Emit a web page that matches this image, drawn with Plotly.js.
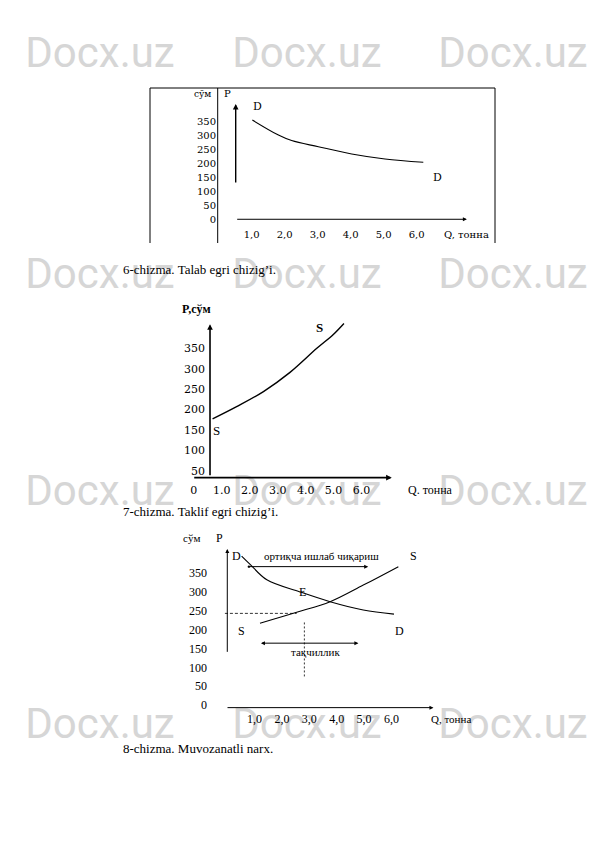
<!DOCTYPE html>
<html><head><meta charset="utf-8">
<script src="https://cdn.plot.ly/plotly-3.0.1.min.js"></script>
<style>html,body{margin:0;padding:0;background:#fff}#c{width:595px;height:842px}</style>
</head><body><div id="c"></div>
<script>
// ---------- DATA ----------
// Chart 6: demand curve (Q in tonnes, P in som)
const demandQ = [1.02, 1.81, 2.21, 3.02, 4.03, 5.04, 6.2];
const demandP = [356, 302, 282, 260, 234, 216, 204];
// Chart 7: supply curve
const supplyQ = [0.67, 1.53, 2.49, 3.44, 4.40, 4.99, 5.37];
const supplyP = [177, 207, 244, 291, 350, 384, 411];
// Chart 8: equilibrium
const eqDemandQ = [0.53, 0.84, 1.45, 2.66, 3.76, 4.97, 6.09];
const eqDemandP = [395, 373, 332, 300, 274, 252, 241];
const eqSupplyQ = [1.2, 2.54, 3.76, 4.97, 6.25];
const eqSupplyP = [217, 246, 274, 318, 367];
const eqPriceLineQ = [-0.08, 2.54];
const eqPriceLineP = [243, 243];
const eqQtyLineQ = [2.82, 2.82];
const eqQtyLineP = [219, 71];
const surplusArrowQ = [0.74, 5.15];
const surplusArrowP = [367, 367];
const shortageArrowQ = [1.18, 4.79];
const shortageArrowP = [164, 164];

// tick values / labels
const priceTicks1 = [0, 50, 100, 150, 200, 250, 300, 350];
const priceLabels1 = ['0', '50', '100', '150', '200', '250', '300', '350'];
const qTicks1 = [1, 2, 3, 4, 5, 6];
const qLabels1 = ['1,0', '2,0', '3,0', '4,0', '5,0', '6,0'];
const priceTicks2 = [50, 100, 150, 200, 250, 300, 350];
const priceLabels2 = ['50', '100', '150', '200', '250', '300', '350'];
const qTicks2 = [0, 1, 2, 3, 4, 5, 6];
const qLabels2 = ['0', '1.0', '2.0', '3.0', '4.0', '5.0', '6.0'];
const priceTicks3 = [0, 50, 100, 150, 200, 250, 300, 350];
const priceLabels3 = ['0', '50', '100', '150', '200', '250', '300', '350'];
const qTicks3 = [1, 2, 3, 4, 5, 6];
const qLabels3 = ['1,0', '2,0', '3,0', '4,0', '5,0', '6,0'];

// axis arrows (start -> end) in data units
const axisArrow1Q = [0.515, 0.515, 0.515, 7.52];
const axisArrow1P = [126, 414, -1, -1];
const axisArrow2Q = [0.578, 0.578, -0.04, 7.08];
const axisArrow2P = [35, 409, 33, 33];
const axisArrow3Q = [0.007, 0.007, -0.04, 7.53];
const axisArrow3P = [137, 414, -7, -7];

// ---------- LAYOUT HELPERS ----------
const W = 595, H = 842;
const PX = v => v / W;
const PY = v => 1 - v / H;
const SERIF = 'Liberation Serif, DejaVu Serif, serif';
const DSERIF = 'DejaVu Serif, serif';

function axesFor(cal) {
  const xr = [(cal.l - cal.x0) / cal.xs, (cal.r - cal.x0) / cal.xs];
  const yr = [(cal.y0 - cal.b) / cal.ys, (cal.y0 - cal.t) / cal.ys];
  return {
    x: {domain: [PX(cal.l), PX(cal.r)], range: xr},
    y: {domain: [PY(cal.b), PY(cal.t)], range: yr}
  };
}
const cal1 = {l:150, r:495, t:88, b:243, x0:218.7, xs:33, y0:219, ys:0.278};
const cal2 = {l:175, r:470, t:300, b:500, x0:193.85, xs:27.95, y0:491.1, ys:0.408};
const cal3 = {l:175, r:480, t:530, b:730, x0:227.1, xs:27.4, y0:705, ys:0.377};
const a1 = axesFor(cal1), a2 = axesFor(cal2), a3 = axesFor(cal3);

function xAx(a, tv, tt, posPy, font) {
  return {domain: a.x.domain, range: a.x.range, anchor: 'free', position: PY(posPy),
    tickvals: tv, ticktext: tt, tickfont: font, showgrid: false, zeroline: false,
    showline: false, ticks: '', fixedrange: true};
}
function yAx(a, tv, tt, posPx, font) {
  return {domain: a.y.domain, range: a.y.range, anchor: 'free', position: PX(posPx),
    tickvals: tv, ticktext: tt, tickfont: font, showgrid: false, zeroline: false,
    showline: false, ticks: '', fixedrange: true};
}

const lineStyle = {color: '#000', width: 1.1, shape: 'spline', smoothing: 1};
const traces = [
  {x: demandQ, y: demandP, xaxis: 'x', yaxis: 'y', mode: 'lines', line: lineStyle},
  {x: supplyQ, y: supplyP, xaxis: 'x2', yaxis: 'y2', mode: 'lines', line: {...lineStyle, width: 1.4}},
  {x: eqDemandQ, y: eqDemandP, xaxis: 'x3', yaxis: 'y3', mode: 'lines', line: lineStyle},
  {x: eqSupplyQ, y: eqSupplyP, xaxis: 'x3', yaxis: 'y3', mode: 'lines', line: lineStyle},
  {x: eqPriceLineQ, y: eqPriceLineP, xaxis: 'x3', yaxis: 'y3', mode: 'lines', line: {color: '#000', width: 0.8, dash: '3px,2px'}},
  {x: eqQtyLineQ, y: eqQtyLineP, xaxis: 'x3', yaxis: 'y3', mode: 'lines', line: {color: '#000', width: 0.8, dash: '2px,2px'}}
];
traces.forEach(t => { t.hoverinfo = 'skip'; t.showlegend = false; t.cliponaxis = false; });

function arrow(xr, yr, q, p, i, extra) {
  return Object.assign({xref: xr, yref: yr, axref: xr, ayref: yr,
    x: q[i + 1], y: p[i + 1], ax: q[i], ay: p[i], text: '', showarrow: true,
    arrowhead: 2, arrowsize: 1, arrowwidth: 1, arrowcolor: '#000', standoff: 0, startstandoff: 0}, extra || {});
}
function lab(xr, yr, x, y, text, font, extra) {
  return Object.assign({xref: xr, yref: yr, x: x, y: y, text: text, showarrow: false, font: font,
    xanchor: 'center', yanchor: 'middle'}, extra || {});
}
function plab(px, py, text, font, extra) {
  return Object.assign({xref: 'paper', yref: 'paper', x: PX(px), y: PY(py), text: text, showarrow: false, font: font,
    xanchor: 'center', yanchor: 'middle'}, extra || {});
}

const annotations = [];
const shapes = [];
// watermarks (drawn below everything)
const wmRows = [49, 270, 487, 720];
const wmCols = [100, 307, 513];
wmRows.forEach(r => wmCols.forEach(c => shapes.push({
  type: 'rect', xref: 'paper', yref: 'paper', layer: 'below',
  x0: PX(c - 80), x1: PX(c + 80), y0: PY(r + 25), y1: PY(r - 25),
  line: {width: 0}, fillcolor: 'rgba(0,0,0,0)',
  label: {text: 'Docx.uz', textposition: 'middle center',
    font: {family: 'Roboto, Liberation Sans, sans-serif', size: 42, color: '#d6d6d6'}}
})));

const f1 = {family: DSERIF, size: 10, color: '#000'};
const f2 = {family: DSERIF, size: 11, color: '#000'};
const f3 = {family: SERIF, size: 12, color: '#000'};

// chart 1 arrows and labels
annotations.push(arrow('x', 'y', axisArrow1Q, axisArrow1P, 0, {arrowwidth: 1.4, arrowsize: 0.8}));
annotations.push(arrow('x', 'y', axisArrow1Q, axisArrow1P, 2, {arrowsize: 0.8}));
annotations.push(plab(213, 94, 'сўм', {family: DSERIF, size: 9, color: '#000'}, {xanchor: 'right'}));
annotations.push(plab(222, 93, 'P', {family: DSERIF, size: 10, color: '#000'}, {xanchor: 'left'}));
annotations.push(lab('x', 'y', 1.19, 404, 'D', {family: DSERIF, size: 11, color: '#000'}));
annotations.push(lab('x', 'y', 6.64, 151, 'D', {family: DSERIF, size: 11, color: '#000'}));
annotations.push(plab(466, 234, 'Q, тонна', f1));

// chart 2
annotations.push(arrow('x2', 'y2', axisArrow2Q, axisArrow2P, 0, {arrowwidth: 1.6, arrowsize: 0.7}));
annotations.push(arrow('x2', 'y2', axisArrow2Q, axisArrow2P, 2, {arrowwidth: 1.6, arrowsize: 0.7}));
annotations.push(plab(180, 309, '<b>P,сўм</b>', {family: SERIF, size: 12, color: '#000'}, {xanchor: 'left'}));
annotations.push(lab('x2', 'y2', 4.49, 400, '<b>S</b>', {family: SERIF, size: 13, color: '#000'}));
annotations.push(lab('x2', 'y2', 0.82, 148, 'S', {family: SERIF, size: 13, color: '#000'}));
annotations.push(plab(430, 489.5, 'Q. тонна', {family: SERIF, size: 12, color: '#000'}));

// chart 3
annotations.push(arrow('x3', 'y3', axisArrow3Q, axisArrow3P, 0, {arrowsize: 0.8}));
annotations.push(arrow('x3', 'y3', axisArrow3Q, axisArrow3P, 2, {arrowsize: 0.8}));
annotations.push(arrow('x3', 'y3', surplusArrowQ, surplusArrowP, 0, {arrowsize: 0.8, arrowside: 'end+start', startarrowhead: 6, startarrowsize: 0.6}));
annotations.push(arrow('x3', 'y3', shortageArrowQ, shortageArrowP, 0, {arrowsize: 0.8, arrowside: 'end+start', startarrowhead: 2, startarrowsize: 0.8}));
annotations.push(plab(191.7, 537.5, 'сўм', {family: SERIF, size: 11, color: '#000'}));
annotations.push(plab(219, 537.5, 'P', {family: SERIF, size: 12, color: '#000'}));
annotations.push(lab('x3', 'y3', 0.35, 396, 'D', f3));
annotations.push(lab('x3', 'y3', 6.8, 396, 'S', f3));
annotations.push(lab('x3', 'y3', 2.74, 299, 'E', f3));
annotations.push(lab('x3', 'y3', 0.53, 196, 'S', f3));
annotations.push(lab('x3', 'y3', 6.31, 196, 'D', f3));
annotations.push(lab('x3', 'y3', 3.45, 396, 'ортиқча ишлаб чиқариш', {family: SERIF, size: 11, color: '#000'}));
annotations.push(lab('x3', 'y3', 3.21, 141, 'тақчиллик', {family: SERIF, size: 11, color: '#000'}));
annotations.push(plab(451, 719, 'Q, тонна', {family: SERIF, size: 11, color: '#000'}));

// captions
const capFont = {family: SERIF, size: 13, color: '#000'};
annotations.push(plab(121, 270, '6-chizma. Talab egri chizig’i.', capFont, {xanchor: 'left'}));
annotations.push(plab(121, 511, '7-chizma. Taklif egri chizig’i.', capFont, {xanchor: 'left'}));
annotations.push(plab(121, 748, '8-chizma. Muvozanatli narx.', capFont, {xanchor: 'left'}));

const frame = {color: '#000', width: 1};
shapes.push(
  {type: 'line', xref: 'paper', yref: 'paper', x0: PX(150), x1: PX(495), y0: PY(88), y1: PY(88), line: frame},
  {type: 'line', xref: 'paper', yref: 'paper', x0: PX(150), x1: PX(150), y0: PY(88), y1: PY(243), line: frame},
  {type: 'line', xref: 'paper', yref: 'paper', x0: PX(217.7), x1: PX(217.7), y0: PY(88), y1: PY(243), line: frame},
  {type: 'line', xref: 'paper', yref: 'paper', x0: PX(495), x1: PX(495), y0: PY(88), y1: PY(243), line: frame}
);

const layout = {
  width: W, height: H, margin: {l: 0, r: 0, t: 0, b: 0},
  paper_bgcolor: '#fff', plot_bgcolor: 'rgba(0,0,0,0)', showlegend: false,
  xaxis: xAx(a1, qTicks1, qLabels1, 227, f1),
  yaxis: yAx(a1, priceTicks1, priceLabels1, 216, f1),
  xaxis2: xAx(a2, qTicks2, qLabels2, 482, f2),
  yaxis2: yAx(a2, priceTicks2, priceLabels2, 205, f2),
  xaxis3: xAx(a3, qTicks3, qLabels3, 710, f3),
  yaxis3: yAx(a3, priceTicks3, priceLabels3, 207, f3),
  annotations: annotations, shapes: shapes
};
Plotly.newPlot('c', traces, layout, {staticPlot: true, displayModeBar: false});
</script></body></html>
